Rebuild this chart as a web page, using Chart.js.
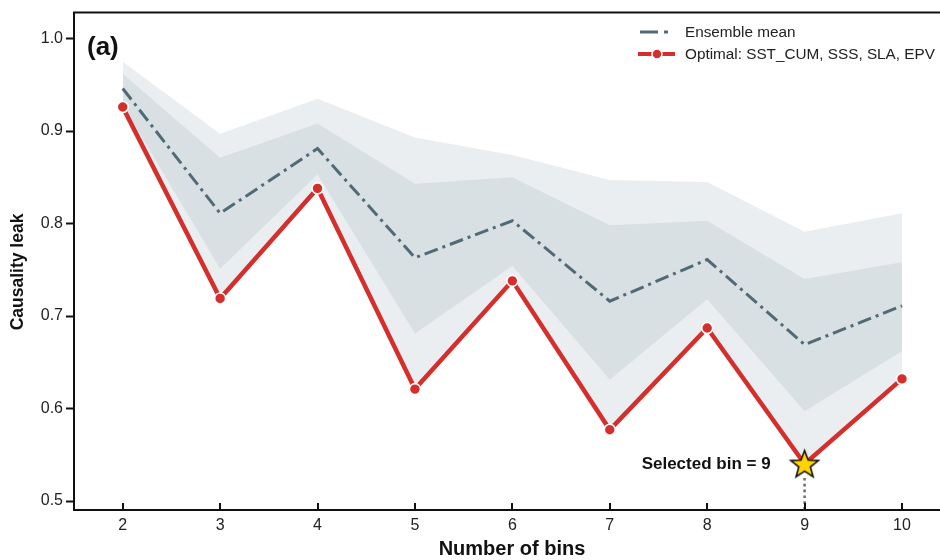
<!DOCTYPE html>
<html>
<head>
<meta charset="utf-8">
<script src="https://cdn.jsdelivr.net/npm/chart.js@4.4.1/dist/chart.umd.min.js"></script>
<style>
  html, body { margin: 0; padding: 0; background: #ffffff; }
  #wrap { width: 940px; height: 560px; }
</style>
</head>
<body>
<div id="wrap"><canvas id="c" width="940" height="560"></canvas></div>
<script>
// Number of bins tested
const bins = [2, 3, 4, 5, 6, 7, 8, 9, 10];
// Causality leak for the optimal predictor set
const optimal = [0.926, 0.719, 0.838, 0.621, 0.738, 0.577, 0.687, 0.540, 0.632];
// Ensemble mean across predictor sets
const ensembleMean = [0.946, 0.811, 0.881, 0.763, 0.803, 0.716, 0.761, 0.669, 0.711];
// Inner spread band (darker)
const innerHigh = [0.962, 0.871, 0.908, 0.843, 0.850, 0.798, 0.803, 0.740, 0.758];
const innerLow  = [0.928, 0.751, 0.853, 0.681, 0.754, 0.631, 0.718, 0.597, 0.662];
// Outer spread band (lighter)
const outerHigh = [0.975, 0.897, 0.935, 0.893, 0.874, 0.847, 0.845, 0.791, 0.811];
const outerLow  = [0.918, 0.716, 0.835, 0.618, 0.735, 0.574, 0.684, 0.537, 0.629];
// Axis ticks
const xTicks = [2, 3, 4, 5, 6, 7, 8, 9, 10];
const yTicks = [0.5, 0.6, 0.7, 0.8, 0.9, 1.0];
const selectedBin = 9;

const FONT = '"Liberation Sans", Arial, Helvetica, sans-serif';
const RED = '#d42f2c';
const SLATE = '#506a76';

const pts = arr => bins.map((b, i) => ({ x: b, y: arr[i] }));

// Yellow star marker for the selected bin
function makeStar(rOuter) {
  const size = Math.ceil(rOuter * 2 + 4);
  const cv = document.createElement('canvas');
  cv.width = size; cv.height = size;
  const g = cv.getContext('2d');
  const cx = size / 2, cy = size / 2 + 1;
  const rInner = rOuter * 0.42;
  g.beginPath();
  for (let k = 0; k < 10; k++) {
    const r = k % 2 === 0 ? rOuter : rInner;
    const a = -Math.PI / 2 + k * Math.PI / 5;
    const px = cx + r * Math.cos(a), py = cy + r * Math.sin(a);
    if (k === 0) g.moveTo(px, py); else g.lineTo(px, py);
  }
  g.closePath();
  g.fillStyle = '#ffd500';
  g.fill();
  g.lineWidth = 1.6;
  g.strokeStyle = '#111111';
  g.lineJoin = 'miter';
  g.stroke();
  return cv;
}
const star = makeStar(14.5);
const selIdx = bins.indexOf(selectedBin);
const optStyles = bins.map((b, i) => i === selIdx ? star : 'circle');
const optRadius = bins.map((b, i) => i === selIdx ? 14 : 5.5);
const optBorder = bins.map((b, i) => i === selIdx ? 0 : 1.6);

// Frame, inward x ticks, selection guide, axis titles, panel tag and legend
const decor = {
  id: 'decor',
  beforeDatasetsDraw(chart) {
    const { ctx, scales: { x, y } } = chart;
    const px = x.getPixelForValue(selectedBin);
    const py = y.getPixelForValue(optimal[selIdx]);
    ctx.save();
    ctx.strokeStyle = '#707070';
    ctx.lineWidth = 2.6;
    ctx.setLineDash([2.6, 3.2]);
    ctx.beginPath();
    ctx.moveTo(px, py + 14);
    ctx.lineTo(px, y.bottom);
    ctx.stroke();
    ctx.restore();
  },
  afterDraw(chart) {
    const { ctx, chartArea: a, scales: { x, y } } = chart;
    ctx.save();
    // top frame line
    ctx.strokeStyle = '#111111';
    ctx.lineWidth = 2;
    ctx.beginPath();
    ctx.moveTo(a.left - 1, a.top);
    ctx.lineTo(a.right, a.top);
    ctx.stroke();
    // x tick marks pointing into the plot
    xTicks.forEach(t => {
      const px = Math.round(x.getPixelForValue(t));
      ctx.beginPath();
      ctx.moveTo(px, a.bottom);
      ctx.lineTo(px, a.bottom - 7);
      ctx.stroke();
    });
    // axis titles
    ctx.fillStyle = '#111111';
    ctx.textAlign = 'center';
    ctx.textBaseline = 'middle';
    ctx.font = 'bold 20px ' + FONT;
    ctx.fillText('Number of bins', 512, 549);
    ctx.save();
    ctx.translate(18, 272);
    ctx.rotate(-Math.PI / 2);
    ctx.font = 'bold 17.5px ' + FONT;
    ctx.fillText('Causality leak', 0, 0);
    ctx.restore();
    // panel tag
    ctx.font = 'bold 26px ' + FONT;
    ctx.textAlign = 'left';
    ctx.fillText('(a)', 87, 48);
    // selected bin label
    ctx.font = 'bold 17px ' + FONT;
    ctx.textAlign = 'right';
    const sy = y.getPixelForValue(optimal[selIdx]);
    ctx.fillText('Selected bin = ' + selectedBin, x.getPixelForValue(selectedBin) - 34, sy);
    // legend
    ctx.textAlign = 'left';
    ctx.font = '15.3px ' + FONT;
    ctx.fillStyle = '#222222';
    const l1 = 32, l2 = 54;
    ctx.strokeStyle = SLATE;
    ctx.lineWidth = 3;
    ctx.beginPath(); ctx.moveTo(640, l1); ctx.lineTo(658, l1); ctx.stroke();
    ctx.beginPath(); ctx.moveTo(664, l1); ctx.lineTo(668, l1); ctx.stroke();
    ctx.fillText('Ensemble mean', 685, l1 + 1);
    ctx.strokeStyle = RED;
    ctx.lineWidth = 4;
    ctx.beginPath(); ctx.moveTo(638, l2); ctx.lineTo(675, l2); ctx.stroke();
    ctx.beginPath(); ctx.arc(657, l2, 5, 0, Math.PI * 2);
    ctx.fillStyle = RED; ctx.fill();
    ctx.lineWidth = 1.5; ctx.strokeStyle = '#ffffff'; ctx.stroke();
    ctx.fillStyle = '#222222';
    ctx.fillText('Optimal: SST_CUM, SSS, SLA, EPV', 685, l2 + 1);
    ctx.restore();
  }
};

new Chart(document.getElementById('c'), {
  type: 'line',
  data: {
    datasets: [
      {
        label: 'Optimal: SST_CUM, SSS, SLA, EPV',
        data: pts(optimal),
        borderColor: RED,
        backgroundColor: RED,
        borderWidth: 4.5,
        pointStyle: optStyles,
        pointRadius: optRadius,
        pointBorderColor: '#ffffff',
        pointBorderWidth: optBorder,
        pointBackgroundColor: RED,
        fill: false,
        order: 0
      },
      {
        label: 'Ensemble mean',
        data: pts(ensembleMean),
        borderColor: SLATE,
        borderWidth: 3,
        borderDash: [14, 5, 3, 5],
        pointRadius: 0,
        fill: false,
        order: 1
      },
      {
        label: 'innerHigh',
        data: pts(innerHigh),
        borderColor: 'rgba(0,0,0,0)',
        borderWidth: 0,
        pointRadius: 0,
        backgroundColor: '#d9e0e3',
        fill: '+1',
        order: 2
      },
      {
        label: 'innerLow',
        data: pts(innerLow),
        borderColor: 'rgba(0,0,0,0)',
        borderWidth: 0,
        pointRadius: 0,
        fill: false,
        order: 3
      },
      {
        label: 'outerHigh',
        data: pts(outerHigh),
        borderColor: 'rgba(0,0,0,0)',
        borderWidth: 0,
        pointRadius: 0,
        backgroundColor: '#eaeef1',
        fill: '+1',
        order: 4
      },
      {
        label: 'outerLow',
        data: pts(outerLow),
        borderColor: 'rgba(0,0,0,0)',
        borderWidth: 0,
        pointRadius: 0,
        fill: false,
        order: 5
      }
    ]
  },
  options: {
    responsive: false,
    animation: false,
    events: [],
    layout: { autoPadding: false, padding: { top: 11, right: 0, left: 0, bottom: 0 } },
    plugins: {
      legend: { display: false },
      tooltip: { enabled: false },
      filler: { drawTime: 'beforeDatasetsDraw' }
    },
    scales: {
      x: {
        type: 'linear',
        min: 1.5,
        max: 10.39,
        afterBuildTicks: s => { s.ticks = xTicks.map(v => ({ value: v })); },
        afterFit: s => { s.height = 50; s.paddingLeft = 0; s.paddingRight = 0; },
        grid: { display: false, drawTicks: false },
        border: { display: true, color: '#111111', width: 2 },
        ticks: {
          color: '#222222',
          font: { family: FONT, size: 16 },
          padding: 6,
          maxRotation: 0,
          callback: v => String(v)
        },
        title: { display: false }
      },
      y: {
        type: 'linear',
        min: 0.4903,
        max: 1.028,
        afterBuildTicks: s => { s.ticks = yTicks.map(v => ({ value: v })); },
        afterFit: s => { s.width = 74; },
        grid: {
          drawOnChartArea: false,
          drawTicks: true,
          tickLength: 8,
          tickWidth: 2,
          tickColor: '#111111'
        },
        border: { display: true, color: '#111111', width: 2 },
        ticks: {
          color: '#222222',
          font: { family: FONT, size: 16 },
          padding: 3,
          callback: v => v.toFixed(1)
        },
        title: { display: false }
      }
    }
  },
  plugins: [decor]
});
</script>
</body>
</html>
